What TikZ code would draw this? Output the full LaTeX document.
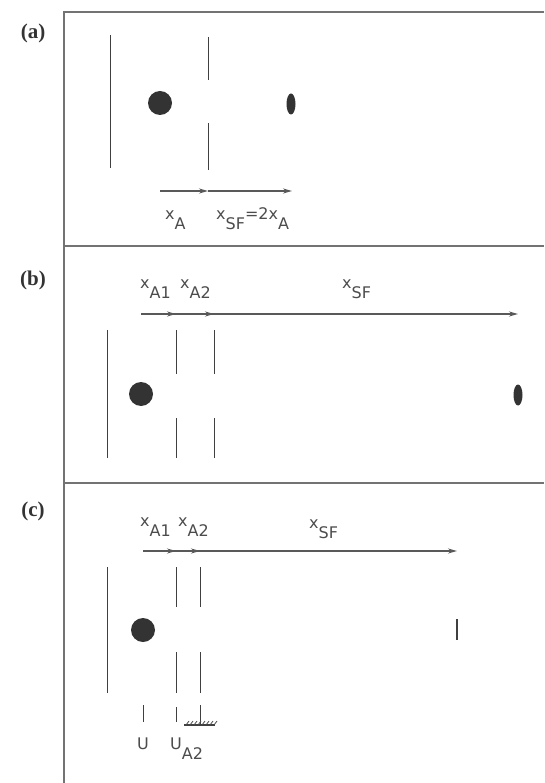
\documentclass[tikz,border=0pt]{standalone}
\usepackage{fontspec}
\newfontfamily\labfont{DejaVu Sans}
\newfontfamily\panfont{Liberation Serif}
\usetikzlibrary{arrows.meta,shapes.geometric}
\newcommand\lsub[1]{\raisebox{-10pt}{#1}}
\begin{document}
\begin{tikzpicture}[x=1pt,y=-1pt,
  frame/.style={draw=black!55, line width=1.8pt},
  slit/.style={draw=black!75, line width=0.9pt},
  dim/.style={draw=black!65, line width=2pt, -{Stealth[length=9pt,width=5pt]}},
  src/.style={circle, fill=black!80, minimum size=24pt, inner sep=0pt},
  img/.style={ellipse, fill=black!80, minimum width=9pt, minimum height=21pt, inner sep=0pt},
  lab/.style={font=\labfont\fontsize{16}{18}\selectfont, text=black!70, inner sep=0pt, anchor=base west},
  panel/.style={font=\panfont\bfseries\fontsize{21}{24}\selectfont, text=black!80, inner sep=0pt}]
\useasboundingbox (0,0) rectangle (544,783);
% frames
\draw[frame] (544,12) -- (64,12) -- (64,783);
\draw[frame] (64,246) -- (544,246);
\draw[frame] (64,483) -- (544,483);
% ---------------- (a)
\node[panel] (pa) at (33,33) {(a)};
\draw[slit] (110,35) -- (110,168);
\node[src] (sa) at (160,103) {};
\node[img] (ia) at (291,104) {};
\draw[slit] (208,37) -- (208,80);
\draw[slit] (208,123) -- (208,170);
\coordinate (a0) at (160,191);
\coordinate (a1) at (208,191);
\coordinate (a2) at (292,191);
\draw[dim] (a0) -- (a1);
\draw[dim] (a1) -- (a2);
\node[lab] (lxa) at (165,220) {x\lsub{A}};
\node[lab] (lxsf) at (216,220) {x\lsub{SF}=2x\lsub{A}};
% ---------------- (b)
\node[panel] (pb) at (33,280) {(b)};
\draw[slit] (107,330) -- (107,458);
\node[src] (sb) at (141,394) {};
\node[img] (ib) at (518,395) {};
\draw[slit] (176,330) -- (176,374);
\draw[slit] (176,418) -- (176,458);
\draw[slit] (214,330) -- (214,374);
\draw[slit] (214,418) -- (214,458);
\coordinate (b0) at (141,314);
\coordinate (b1) at (176,314);
\coordinate (b2) at (214,314);
\coordinate (b3) at (518,314);
\draw[dim] (b0) -- (b3);
\draw[dim] (b0) -- (b1);
\draw[dim] (b1) -- (b2);
\node[lab] (lb1) at (140,288) {x\lsub{A1}};
\node[lab] (lb2) at (180,288) {x\lsub{A2}};
\node[lab] (lb3) at (342,288) {x\lsub{SF}};
% ---------------- (c)
\node[panel] (pc) at (33,511) {(c)};
\draw[slit] (107,567) -- (107,693);
\node[src] (sc) at (143,630) {};
\draw[slit] (176,567) -- (176,607);
\draw[slit] (176,652) -- (176,693);
\draw[slit] (200,567) -- (200,607);
\draw[slit] (200,652) -- (200,693);
\draw[slit, line width=1.4pt] (457,619) -- (457,640);
\coordinate (c0) at (143,551);
\coordinate (c1) at (176,551);
\coordinate (c2) at (200,551);
\coordinate (c3) at (457,551);
\draw[dim] (c0) -- (c3);
\draw[dim] (c0) -- (c1);
\draw[dim] (c1) -- (c2);
\node[lab] (lc1) at (140,526) {x\lsub{A1}};
\node[lab] (lc2) at (178,526) {x\lsub{A2}};
\node[lab] (lc3) at (309,528) {x\lsub{SF}};
% bottom ticks of (c)
\draw[slit] (143,705) -- (143,722);
\draw[slit] (176,707) -- (176,722);
\draw[slit] (200,705) -- (200,725);
\draw[slit, line width=1.2pt] (184,725) -- (215,725);
\foreach \h in {186,190,...,214} \draw[black!70, line width=0.8pt] (\h,725) -- (\h+3,721);
\node[lab] (lu) at (137,749) {U};
\node[lab] (lua) at (170,749) {U\lsub{A2}};
\end{tikzpicture}
\end{document}
